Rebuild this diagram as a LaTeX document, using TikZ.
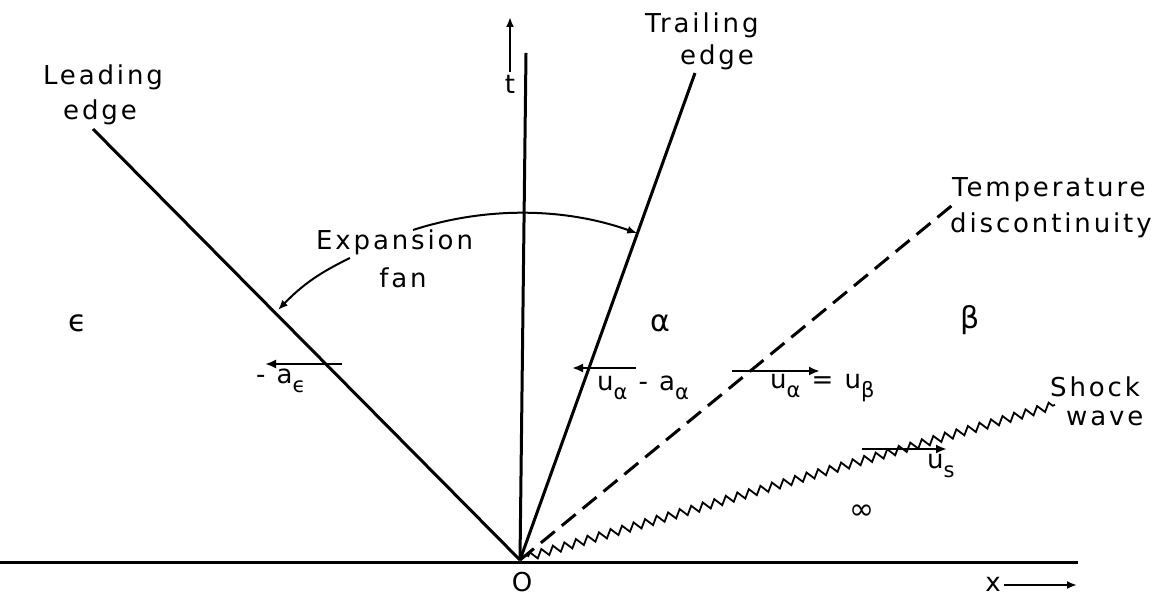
\documentclass[tikz,border=0pt]{standalone}
\usepackage{fontspec}
\setmainfont{DejaVu Sans}[LetterSpace=11]
\newfontfamily\grk{DejaVu Sans}
\usetikzlibrary{decorations.pathmorphing,arrows.meta}
\newcommand\lowsub[1]{\raisebox{-0.6ex}{\fontsize{21}{23}\selectfont #1}}
\begin{document}
\begin{tikzpicture}[x=1pt,y=1pt,
  lbl/.style={font=\fontsize{26}{30}\selectfont, inner sep=0pt},
  greek/.style={font=\fontsize{30}{34}\selectfont\grk, inner sep=0pt},
  ln/.style={line width=3pt},
  vel/.style={line width=2.8pt,-{Latex[length=11pt,width=9pt]}},
  thin arrow/.style={line width=2pt,-{Latex[length=10pt,width=8pt]}}]
\useasboundingbox (0,0) rectangle (1172,603);
% main points
\coordinate (O) at (520,43);
\coordinate (axL) at (0,41);
\coordinate (axR) at (1078,41);
\coordinate (ttop) at (526,550);
\coordinate (leadE) at (93,474);
\coordinate (trailE) at (695,530);
\coordinate (tempE) at (955,400);
\coordinate (shS) at (528,46);
\coordinate (shE) at (1055,198);
% axes
\draw[ln] (axL) -- (axR);
\draw[ln] (O) -- (ttop);
\coordinate (t1) at (510,531); \coordinate (t2) at (510,586);
\draw[thin arrow] (t1) -- (t2);
\node[lbl] (tlab) at (510,519) {t};
\coordinate (x1) at (1004,18); \coordinate (x2) at (1077,18);
\draw[thin arrow] (x1) -- (x2);
\node[lbl] (xlab) at (993,19) {x};
\node[lbl] (Olab) at (522,21) {O};
% wave lines
\draw[ln] (O) -- (leadE);
\draw[ln] (O) -- (trailE);
\draw[ln, dash pattern=on 18pt off 9pt] (O) -- (tempE);
\draw[line width=1.8pt, decorate, decoration={zigzag,segment length=12pt,amplitude=4pt}] (shS) -- (shE);
% labels of lines
\node[lbl] (lead1) at (103,526) {Leading};
\node[lbl] (lead2) at (100,491) {edge};
\node[lbl,anchor=west] (trail1) at (645,578) {Trailing};
\node[lbl,anchor=west] (trail2) at (680,546) {edge};
\node[lbl,anchor=west] (temp1) at (952,413) {Temperature};
\node[lbl,anchor=west] (temp2) at (950,378) {discontinuity};
\node[lbl,anchor=west] (shock1) at (1050,216) {Shock};
\node[lbl,anchor=west] (shock2) at (1066,185) {wave};
\node[lbl,anchor=west] (exp1) at (316,361) {Expansion};
\node[lbl] (exp2) at (403,325) {fan};
% expansion fan arrows
\coordinate (fanA) at (413,373);
\draw[thin arrow] (fanA) arc[start angle=107.96, end angle=70.36, radius=348];
\coordinate (fanB) at (350,345);
\coordinate (fanC) at (278,293);
\draw[thin arrow] (fanB) to[bend right=10] (fanC);
% regions
\node[greek] (reps) at (78,280) {ϵ};
\node[greek] (ralpha) at (660,280) {α};
\node[greek] (rbeta) at (970,283) {β};
\node[greek] (rinf) at (862,91) {∞};
% velocities
\coordinate (ae1) at (342,239); \coordinate (ae2) at (265,239);
\draw[vel] (ae1) -- (ae2);
\node[lbl,anchor=west] (aelab) at (256,222) {- a\lowsub{ϵ}};
\coordinate (ua1) at (636,235); \coordinate (ua2) at (572,235);
\draw[vel] (ua1) -- (ua2);
\node[lbl,anchor=west] (ualab) at (597,215) {u\lowsub{α} - a\lowsub{α}};
\coordinate (ub1) at (732,232); \coordinate (ub2) at (820,232);
\draw[vel] (ub1) -- (ub2);
\node[lbl,anchor=west] (ublab) at (770,215) {u\lowsub{α} = u\lowsub{β}};
\coordinate (us1) at (862,154); \coordinate (us2) at (947,154);
\draw[vel] (us1) -- (us2);
\node[lbl,anchor=west] (uslab) at (927,137) {u\lowsub{s}};
\end{tikzpicture}
\end{document}
